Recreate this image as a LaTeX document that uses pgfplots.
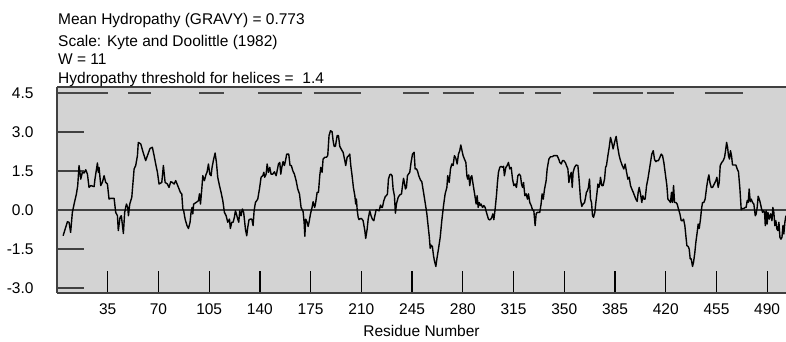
\documentclass[border=0pt]{standalone}
\usepackage{pgfplots}
\usepackage{pgfplotstable}
\pgfplotsset{compat=1.18}
\usepackage{fontspec}
\setmainfont{Liberation Sans}

\definecolor{panel}{RGB}{211,211,211}
\definecolor{rule}{RGB}{64,64,64}
\definecolor{helix}{RGB}{72,72,72}

% Kyte-Doolittle hydropathy, window 11 (residue, score)
\pgfplotstableread{
res kd
4.2 -0.99
7.2 -0.45
8.3 -0.47
9.4 -0.86
10.6 -0.09
11.8 0.23
13.4 0.62
14.3 0.94
15.2 1.71
16.4 1.19
17.5 1.45
18.7 1.42
19.8 1.55
21.0 1.38
22.1 0.87
23.3 0.94
25.6 0.90
26.2 1.19
27.9 1.81
28.5 1.45
29.0 1.64
30.2 0.94
31.3 1.06
32.5 1.32
33.6 1.06
34.8 1.00
35.9 0.42
37.1 0.45
39.4 0.45
40.5 -0.09
41.7 -0.22
42.3 -0.79
43.5 -0.28
44.4 -0.22
45.8 -0.90
46.7 -0.09
47.9 0.23
48.8 0.10
49.3 -0.22
50.2 0.23
51.6 0.49
53.2 1.58
54.3 1.71
55.5 2.09
56.1 2.60
57.8 2.54
59.4 2.22
61.2 1.90
62.4 2.09
64.2 2.37
65.8 2.41
67.0 2.09
68.1 1.77
69.3 1.45
70.4 1.00
72.3 1.06
73.4 1.71
74.6 1.06
76.2 1.00
77.3 0.87
78.5 1.09
79.6 1.06
80.8 1.00
81.9 1.13
83.8 0.87
85.1 0.68
86.1 0.62
86.8 0.04
87.4 -0.03
88.4 -0.35
89.7 -0.60
90.7 -0.71
91.8 -0.47
92.5 -0.09
93.2 0.10
93.7 -0.15
94.3 0.23
96.0 0.29
97.6 0.36
98.3 0.62
99.0 0.23
99.9 0.81
100.6 1.32
101.7 1.13
102.9 1.38
103.5 1.45
104.5 1.77
105.4 1.38
106.3 1.32
107.0 1.64
108.1 1.96
109.1 2.19
110.0 1.83
110.9 1.26
112.1 0.94
113.2 0.68
114.4 0.36
115.5 -0.09
116.7 -0.22
117.8 -0.47
119.0 -0.35
119.6 -0.71
120.6 -0.47
121.5 -0.47
122.4 -0.28
123.1 -0.03
123.8 -0.15
124.7 -0.35
125.4 -0.47
126.1 -0.03
127.0 -0.22
127.9 0.04
128.8 -0.09
130.0 -0.73
130.9 -0.99
131.6 -0.67
132.5 -0.37
133.5 -0.35
134.4 -0.35
135.3 -0.60
136.0 -0.03
136.9 0.29
138.5 0.42
139.7 0.81
140.8 1.26
142.0 1.32
142.7 1.45
143.3 1.26
144.3 1.38
145.0 1.77
145.9 1.45
146.8 1.64
147.7 1.38
148.9 1.38
150.0 1.47
151.2 1.32
151.9 1.51
152.8 1.77
153.7 1.83
154.4 1.38
155.1 1.64
156.0 1.86
156.9 1.71
157.8 1.94
158.5 2.15
159.9 2.15
160.8 1.71
161.7 1.71
162.7 1.51
163.8 1.38
165.0 1.13
166.1 0.81
167.3 0.62
168.4 0.10
169.8 -0.06
170.5 -0.47
171.0 -1.01
171.6 -0.35
172.6 -0.47
173.3 -0.63
173.9 -0.47
174.9 -0.15
176.0 0.10
176.7 0.32
177.8 0.10
178.5 0.29
179.5 0.68
180.4 0.68
181.3 1.32
182.0 1.64
182.9 1.45
183.6 1.96
184.8 2.03
185.9 2.03
186.8 2.09
187.7 2.86
188.7 3.05
189.8 3.01
190.5 2.67
191.2 2.45
192.1 2.45
193.3 2.86
194.2 2.86
195.1 2.45
196.3 2.32
197.4 2.22
198.6 1.90
199.2 1.71
200.2 2.03
201.3 2.09
202.0 2.15
202.7 1.71
203.6 1.32
204.5 0.87
205.5 0.55
206.1 0.23
206.6 0.42
207.1 0.01
207.8 -0.28
208.4 -0.37
209.6 -0.32
210.5 -0.35
211.2 -0.41
212.4 -0.79
213.0 -1.09
214.0 -0.73
214.7 -0.35
215.8 -0.03
216.7 -0.22
217.6 -0.35
218.6 -0.41
219.3 -0.22
220.2 0.01
221.1 0.00
222.3 -0.03
223.2 0.19
223.9 0.10
224.5 0.10
225.5 0.36
226.6 0.53
227.3 0.55
228.0 0.62
228.7 1.19
229.6 1.35
230.3 1.38
231.2 1.32
231.9 0.81
232.8 0.55
233.5 -0.12
234.2 0.23
235.4 0.49
236.5 0.58
237.7 0.62
238.4 0.94
239.1 1.22
239.7 1.06
240.4 0.81
241.1 0.87
241.8 1.32
242.5 1.38
243.4 1.45
244.3 1.83
245.3 2.15
246.4 2.22
247.1 1.58
248.0 1.58
248.7 1.51
249.6 1.32
250.8 1.15
251.7 1.09
252.9 0.68
254.0 0.29
255.2 -0.15
255.8 -0.47
256.8 -0.99
257.5 -1.47
258.1 -1.35
259.0 -1.40
259.8 -1.76
260.4 -1.95
261.4 -2.17
262.1 -1.88
263.2 -1.50
264.4 -1.05
265.5 -0.41
266.7 0.17
267.8 0.62
269.0 0.87
269.6 1.32
270.6 1.06
271.5 1.58
272.4 1.77
273.3 1.71
274.2 2.09
275.2 1.99
276.1 1.77
277.0 2.15
277.9 2.28
278.6 2.50
279.3 2.32
280.2 2.09
281.1 1.96
282.1 1.83
282.8 1.32
283.4 1.19
284.1 1.35
284.8 0.94
285.5 1.26
286.2 1.32
286.9 1.06
287.6 0.81
288.5 0.49
289.2 0.23
289.9 0.55
290.6 0.10
291.3 0.29
292.0 0.17
292.6 0.23
293.6 0.10
294.5 0.17
295.4 0.10
296.3 -0.09
297.0 -0.22
297.7 -0.35
298.6 -0.38
299.3 -0.35
300.0 -0.28
300.7 -0.15
301.4 -0.37
302.3 0.04
303.2 0.55
303.9 1.06
304.6 1.45
305.5 1.64
306.4 1.68
307.4 1.64
308.1 1.68
308.7 1.32
309.7 1.64
310.6 1.71
311.5 1.83
312.4 1.58
313.4 1.64
314.3 1.19
315.2 0.94
316.1 1.00
317.0 0.87
318.0 1.32
318.9 1.38
319.8 1.32
320.5 1.00
321.2 0.87
321.9 1.06
322.8 0.55
323.7 0.62
324.6 0.42
325.3 0.62
326.2 0.29
327.2 0.17
328.1 0.01
329.0 -0.03
329.9 -0.60
330.6 -0.15
331.3 -0.09
332.2 -0.09
333.1 -0.09
334.0 0.23
334.7 0.62
335.5 0.42
336.4 0.81
337.5 1.13
338.2 1.58
339.4 1.96
340.5 2.05
341.7 2.05
342.8 2.09
344.0 2.09
345.1 2.09
346.3 1.94
346.9 1.83
347.9 1.77
348.8 1.90
349.7 1.90
350.9 1.81
351.5 1.71
352.5 1.58
353.2 1.06
353.8 1.26
354.8 1.45
355.5 0.87
356.1 1.45
357.1 1.64
358.2 1.73
359.4 1.71
360.1 1.26
360.7 0.81
361.2 0.42
362.1 0.14
363.0 0.23
364.0 0.29
364.7 0.49
365.3 0.68
366.0 0.74
366.7 0.87
367.4 1.19
368.1 0.42
368.8 0.29
369.5 -0.22
370.2 -0.28
371.1 -0.09
371.8 0.29
372.5 0.62
373.2 1.00
373.9 0.87
374.5 1.00
375.0 1.26
375.9 0.94
376.8 0.94
377.8 1.19
378.5 1.64
379.1 1.71
380.1 2.09
381.0 2.41
381.9 2.79
382.8 2.60
383.7 2.35
384.7 2.60
385.8 2.83
386.7 2.47
387.9 2.09
388.8 1.90
390.0 1.71
391.1 1.58
392.0 1.77
393.0 1.45
393.9 1.19
394.8 1.26
395.7 0.94
396.6 0.81
397.6 0.68
398.5 0.55
399.4 0.42
400.3 0.33
401.0 0.68
401.7 0.87
402.6 0.62
403.5 0.29
404.2 0.55
404.9 0.42
405.8 0.42
406.8 0.94
407.7 1.19
408.6 1.51
409.5 1.83
410.4 2.15
411.4 2.28
412.3 1.94
413.2 1.86
414.1 1.90
415.0 1.90
416.0 2.03
416.9 2.15
417.8 2.09
418.7 1.83
419.6 1.45
420.8 0.94
421.5 0.42
422.4 0.36
423.3 0.29
424.0 0.68
424.7 0.29
425.4 0.94
426.1 0.29
427.0 0.29
427.9 0.23
428.8 0.04
429.8 -0.15
430.7 -0.41
431.6 -0.41
432.3 -0.35
433.2 -0.60
433.9 -0.99
434.6 -1.37
435.5 -1.40
436.2 -1.50
436.9 -1.88
437.6 -1.88
438.5 -2.17
439.2 -2.01
440.1 -1.63
440.8 -1.24
441.7 -0.86
442.4 -0.54
443.1 -0.71
444.0 -0.35
444.7 0.04
445.4 0.29
446.3 0.29
447.2 0.42
448.2 0.87
449.1 1.19
449.8 1.35
450.5 1.06
451.4 0.87
452.3 0.87
453.5 1.00
454.6 1.13
455.3 1.26
456.2 0.87
456.9 1.06
457.6 1.71
458.7 1.83
459.7 1.90
460.6 2.03
461.3 2.28
462.0 2.60
462.7 2.41
463.3 2.09
464.0 1.96
464.7 2.28
465.4 2.09
466.1 1.73
467.3 1.73
468.4 1.73
469.3 1.58
470.2 1.47
471.2 0.81
472.1 0.01
473.0 0.06
473.9 0.06
474.9 0.10
475.5 0.10
476.2 0.36
476.9 0.29
477.6 0.81
478.3 0.32
479.0 0.42
479.9 0.29
480.8 0.23
481.8 -0.22
482.4 -0.15
483.1 0.10
483.8 0.53
484.5 0.42
485.2 0.29
485.9 0.10
486.8 -0.09
487.5 -0.03
488.2 -0.09
488.7 -0.60
489.3 -0.03
490.0 -0.54
490.5 -0.09
491.4 -0.35
492.3 -0.15
493.3 -0.41
493.9 0.10
494.6 -0.09
495.3 -0.60
496.0 -0.41
496.7 -0.73
497.4 -0.79
498.1 -0.47
498.8 -1.05
499.5 -1.12
500.2 -1.05
500.9 -0.60
501.5 -0.92
502.2 -0.47
502.9 -0.22
}\hydro

\begin{document}
\begin{tikzpicture}[font=\fontsize{15.5}{18}\selectfont]
\useasboundingbox (0,0) rectangle (786pt,342pt);
\begin{axis}[
  at={(57pt,49pt)}, anchor=south west,
  scale only axis, width=729pt, height=206pt,
  xmin=0, xmax=503, ymin=-3.19, ymax=4.73,
  axis background/.style={fill=panel},
  axis y line=left, axis x line=box,
  axis line style={-, draw=rule, line width=1.3pt},
  /pgf/number format/assume math mode=true,
  tick align=inside,
  major tick length=22pt,
  xtick pos=bottom,
  xtick={35,70,...,490},
  xticklabels={35,70,105,140,175,210,245,280,315,350,385,420,455,490},
  xtick style={black, line width=1.2pt},
  xticklabel style={yshift=-7pt},
  ytick={-3,-1.5,0,1.5,3,4.5},
  yticklabels={-3.0,-1.5,0.0,1.5,3.0,4.5},
  ytick style={draw=none},
  yticklabel style={xshift=-20pt},
  xlabel={Residue Number},
  xlabel style={at={(axis description cs:0.5,0)}, anchor=base, yshift=-43pt},
  clip=true,
]
% short gray marks along the left edge
\addplot[rule, line width=1.3pt, unbounded coords=jump] coordinates {
  (0,3) (18.6,3) (19,nan)
  (0,1.5) (18.6,1.5) (19,nan)
  (0,-1.5) (18.6,-1.5) (19,nan)
  (0,-3) (18.6,-3)
};
% zero line
\addplot[rule, line width=1.3pt] coordinates {(0,0) (503,0)};
% predicted helical segments (score above 1.4)
\addplot[helix, line width=1.4pt, unbounded coords=jump] coordinates {
  (1,4.5) (35,4.5) (36,nan)
  (49,4.5) (65,4.5) (66,nan)
  (98,4.5) (115,4.5) (116,nan)
  (139,4.5) (169,4.5) (170,nan)
  (177,4.5) (210,4.5) (211,nan)
  (239,4.5) (257,4.5) (258,nan)
  (266,4.5) (288,4.5) (289,nan)
  (305,4.5) (322,4.5) (323,nan)
  (330,4.5) (348,4.5) (349,nan)
  (370,4.5) (404,4.5) (405,nan)
  (407,4.5) (426,4.5) (427,nan)
  (447,4.5) (473,4.5)
};
% hydropathy profile
\addplot[black, line width=1.4pt, line join=round] table[x=res, y=kd] {\hydro};
\end{axis}
\begin{scope}[every node/.style={anchor=base west, inner sep=0pt}]
\node at (58pt,317pt) {Mean Hydropathy (GRAVY) = 0.773};
\node at (58pt,295.5pt) {Scale: Kyte and Doolittle (1982)};
\node at (58pt,277pt) {W = 11};
\node at (58pt,258pt) {Hydropathy threshold for helices = \ 1.4};
\end{scope}
\end{tikzpicture}
\end{document}
